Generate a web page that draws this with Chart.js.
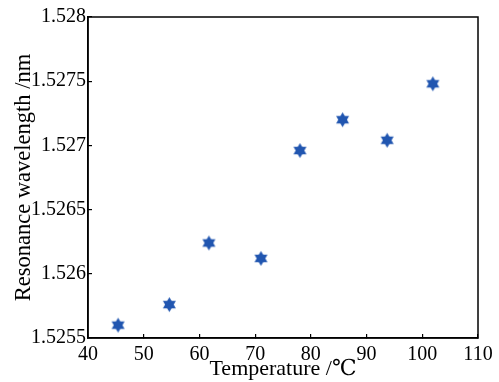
<!DOCTYPE html>
<html>
<head>
<meta charset="utf-8">
<script src="https://cdn.jsdelivr.net/npm/chart.js@4/dist/chart.umd.min.js"></script>
<style>
  html, body { margin: 0; padding: 0; background: #fff; overflow: hidden; }
  #wrap { width: 499px; height: 382px; }
</style>
</head>
<body>
<div id="wrap"><canvas id="myChart"></canvas></div>
<script>
// data
const temperature = [45.4, 54.6, 61.7, 71.05, 78.05, 85.7, 93.7, 101.9];
const wavelength = [1.52560, 1.52576, 1.52624, 1.52612, 1.52696, 1.52720, 1.52704, 1.52748];
const xTicks = [40, 50, 60, 70, 80, 90, 100, 110];
const yTicks = [1.5255, 1.526, 1.5265, 1.527, 1.5275, 1.528];
const xLabels = ['40', '50', '60', '70', '80', '90', '100', '110'];
const yLabels = ['1.5255', '1.526', '1.5265', '1.527', '1.5275', '1.528'];

// six pointed star marker
function hexagram(r, color) {
  const c = document.createElement('canvas');
  const s = Math.ceil(r * 2 + 2);
  c.width = s; c.height = s;
  const g = c.getContext('2d');
  g.fillStyle = color;
  for (let k = 0; k < 2; k++) {
    g.beginPath();
    for (let i = 0; i < 3; i++) {
      const a = -Math.PI / 2 + k * Math.PI + i * 2 * Math.PI / 3;
      const px = s / 2 + r * Math.cos(a);
      const py = s / 2 + r * Math.sin(a);
      if (i === 0) g.moveTo(px, py); else g.lineTo(px, py);
    }
    g.closePath();
    g.fill();
  }
  return c;
}
const star = hexagram(7.5, '#2156b0');

const frame = {
  id: 'frame',
  afterDraw(chart) {
    const a = chart.chartArea;
    const g = chart.ctx;
    g.save();
    g.strokeStyle = '#000';
    g.lineWidth = 1.5;
    g.strokeRect(a.left, a.top, a.right - a.left, a.bottom - a.top);
    g.restore();
  }
};

const serif = "'Liberation Serif', 'DejaVu Serif', serif";

const ctx = document.getElementById('myChart').getContext('2d');
new Chart(ctx, {
  type: 'scatter',
  data: {
    datasets: [{
      data: temperature.map((t, i) => ({ x: t, y: wavelength[i] })),
      pointStyle: star,
      pointRadius: 8,
      pointHoverRadius: 8
    }]
  },
  options: {
    responsive: true,
    maintainAspectRatio: false,
    animation: false,
    layout: { padding: { top: 17, right: 21, left: 0, bottom: 0 } },
    plugins: { legend: { display: false }, tooltip: { enabled: false } },
    scales: {
      x: {
        type: 'linear',
        min: 40,
        max: 110,
        afterBuildTicks: s => { s.ticks = xTicks.map(v => ({ value: v })); },
        afterFit: s => { s.height = 44; s.paddingLeft = 0; s.paddingRight = 0; },
        border: { display: true, color: '#000', width: 1.5 },
        grid: { drawOnChartArea: false, drawTicks: true, tickLength: -4, color: '#000', lineWidth: 1.2 },
        ticks: {
          padding: 9,
          color: '#000',
          font: { family: serif, size: 20 },
          maxRotation: 0,
          callback: (v) => xLabels[xTicks.indexOf(v)]
        },
        title: {
          display: true,
          text: 'Temperature /℃',
          color: '#000',
          font: { family: serif, size: 22 },
          padding: { top: 0, bottom: 0 }
        }
      },
      y: {
        type: 'linear',
        min: 1.5255,
        max: 1.528,
        afterBuildTicks: s => { s.ticks = yTicks.map(v => ({ value: v })); },
        afterFit: s => { s.width = 88; s.paddingTop = 0; s.paddingBottom = 0; },
        border: { display: true, color: '#000', width: 1.5 },
        grid: { drawOnChartArea: false, drawTicks: true, tickLength: -4, color: '#000', lineWidth: 1.2 },
        ticks: {
          padding: 6,
          color: '#000',
          font: { family: serif, size: 20 },
          callback: (v) => yLabels[yTicks.findIndex(t => Math.abs(t - v) < 1e-7)]
        },
        title: {
          display: true,
          text: 'Resonance wavelength /nm',
          color: '#000',
          font: { family: serif, size: 22.5 },
          padding: { top: 11, bottom: 0 }
        }
      }
    }
  },
  plugins: [frame]
});
</script>
</body>
</html>
